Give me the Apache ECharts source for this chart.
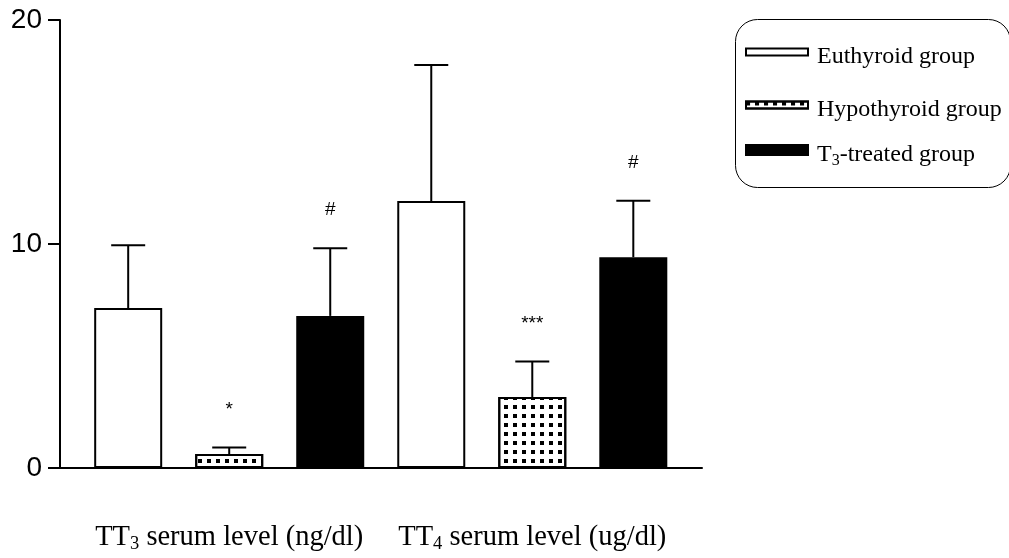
<!DOCTYPE html>
<html>
<head>
<meta charset="utf-8">
<script src="https://cdn.jsdelivr.net/npm/echarts@6/dist/echarts.min.js"></script>
<style>html,body{margin:0;padding:0;background:#fff}#c{width:1009px;height:558px}</style>
</head>
<body>
<div id="c"></div>
<script>
// ---- data ----
const groups = ['TT3 serum level (ng/dl)', 'TT4 serum level (ug/dl)'];
const seriesNames = ['Euthyroid group', 'Hypothyroid group', 'T3-treated group'];
const euthyroidMean = [7.14, 11.92];
const euthyroidErr = [2.80, 6.07];
const hypothyroidMean = [0.62, 3.17];
const hypothyroidErr = [0.29, 1.58];
const treatedMean = [6.79, 9.41];
const treatedErr = [3.02, 2.52];
const hypothyroidMarks = ['*', '***'];
const treatedMarks = ['#', '#'];
const yTicks = [0, 10, 20];

const means = [euthyroidMean, hypothyroidMean, treatedMean];
const errs = [euthyroidErr, hypothyroidErr, treatedErr];
const marks = [['', ''], hypothyroidMarks, treatedMarks];

function richSub(str) {
  return '{t|' + str.replace(/T(\d)/g, 'T}{s|$1}{t|') + '}';
}

const nS = seriesNames.length;
function slot(g, s) { return g * nS + s; }

const series = [];
const fills = ['#ffffff', '#ffffff', '#000000'];
seriesNames.forEach((name, s) => {
  const item = {
    color: fills[s],
    borderColor: '#000',
    borderWidth: 2
  };
  if (s === 1) {
    item.decal = {
      symbol: 'rect',
      symbolSize: 1,
      dashArrayX: [4, 4.5],
      dashArrayY: [3.5, 4.5],
      color: '#000',
      rotation: 0
    };
  }
  series.push({
    name: name,
    type: 'bar',
    barWidth: 68,
    barGap: '-100%',
    itemStyle: item,
    data: groups.map((g, gi) => [slot(gi, s), means[s][gi]]),
    z: 3
  });
});

const errData = [];
seriesNames.forEach((name, s) => {
  groups.forEach((g, gi) => {
    errData.push([slot(gi, s), means[s][gi], means[s][gi] + errs[s][gi], marks[s][gi]]);
  });
});

series.push({
  type: 'custom',
  z: 2,
  silent: true,
  data: errData,
  encode: { x: 0, y: [1, 2] },
  renderItem: function (params, api) {
    const x = api.value(0);
    const lo = api.coord([x, api.value(1)]);
    const hi = api.coord([x, api.value(2)]);
    const mark = errData[params.dataIndex][3];
    const children = [
      { type: 'line', shape: { x1: lo[0], y1: lo[1], x2: hi[0], y2: hi[1] }, style: { stroke: '#000', lineWidth: 2 } },
      { type: 'line', shape: { x1: hi[0] - 17, y1: hi[1], x2: hi[0] + 17, y2: hi[1] }, style: { stroke: '#000', lineWidth: 2 } }
    ];
    if (mark) {
      children.push({
        type: 'text',
        style: {
          x: hi[0], y: hi[1] - 38, text: mark,
          fill: '#000', font: '19px "Liberation Sans", Arial, sans-serif',
          align: 'center', verticalAlign: 'middle'
        }
      });
    }
    return { type: 'group', children: children };
  }
});

const richStyles = {
  t: { fontFamily: '"Liberation Serif", "Times New Roman", serif', fontSize: 28.5, color: '#000', lineHeight: 32 },
  s: { fontFamily: '"Liberation Serif", "Times New Roman", serif', fontSize: 18.5, color: '#000', lineHeight: 14, verticalAlign: 'bottom' }
};
const legendRich = {
  t: { fontFamily: '"Liberation Serif", "Times New Roman", serif', fontSize: 24, color: '#000', lineHeight: 28 },
  s: { fontFamily: '"Liberation Serif", "Times New Roman", serif', fontSize: 16, color: '#000', lineHeight: 12, verticalAlign: 'bottom' }
};

const legendTops = [45, 98, 143];
const legendHeights = [7, 7, 10];
const legends = seriesNames.map((name, i) => ({
  data: [name],
  left: 745,
  top: legendTops[i],
  padding: 0,
  icon: 'rect',
  itemWidth: 62,
  itemHeight: legendHeights[i],
  selectedMode: false,
  formatter: function (n) { return richSub(n); },
  textStyle: { rich: legendRich, padding: [10, 0, 0, 4] }
}));

const option = {
  animation: false,
  backgroundColor: '#fff',
  grid: { left: 60, right: 307, top: 20, bottom: 90, containLabel: false },
  legend: legends,
  graphic: [{
    type: 'rect',
    left: 733, top: 17,
    shape: { width: 275, height: 168, r: 22 },
    style: { fill: 'none', stroke: '#000', lineWidth: 1 }
  }],
  xAxis: {
    type: 'value',
    min: -0.675,
    max: 5.68,
    splitLine: { show: false },
    axisLine: { show: true, onZero: false, lineStyle: { color: '#000', width: 2 } },
    axisTick: { show: false },
    axisLabel: {
      customValues: [1, 4],
      margin: 54,
      formatter: function (v) { return richSub(groups[Math.round((v - 1) / nS)]); },
      rich: richStyles
    }
  },
  yAxis: {
    type: 'value',
    min: yTicks[0],
    max: yTicks[yTicks.length - 1],
    interval: 10,
    splitLine: { show: false },
    axisLine: { show: true, onZero: false, lineStyle: { color: '#000', width: 2 } },
    axisTick: { show: true, inside: false, length: 12, lineStyle: { color: '#000', width: 2 } },
    axisLabel: { color: '#000', fontSize: 28, fontFamily: '"Liberation Sans", Arial, sans-serif', margin: 18 }
  },
  series: series
};

const chart = echarts.init(document.getElementById('c'), null, { renderer: 'canvas' });
chart.setOption(option);
</script>
</body>
</html>
